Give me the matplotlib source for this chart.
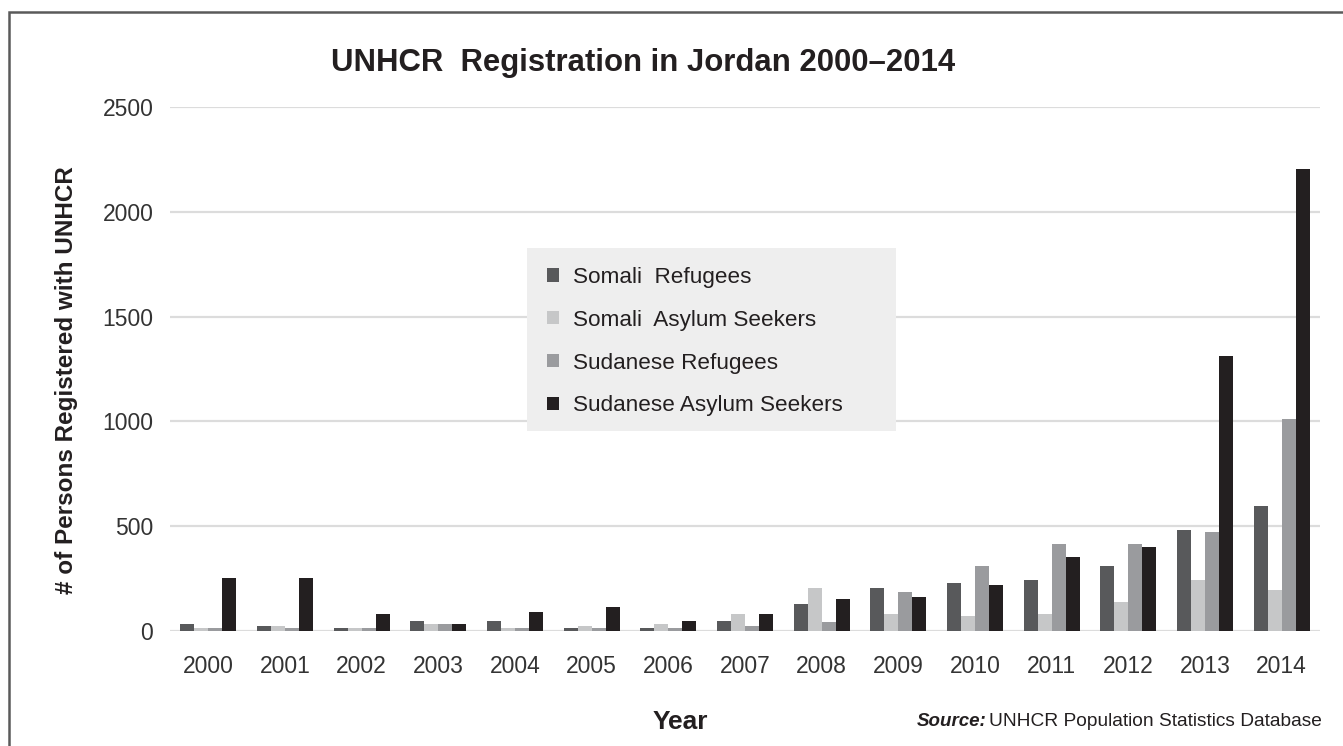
import matplotlib
matplotlib.use("Agg")
import matplotlib.pyplot as plt
import numpy as np
from matplotlib.patches import Rectangle, Patch

years = ["2000", "2001", "2002", "2003", "2004", "2005", "2006", "2007",
         "2008", "2009", "2010", "2011", "2012", "2013", "2014"]
somali_refugees = [33, 22, 12, 47, 47, 12, 12, 47, 127, 207, 230, 242, 310, 483, 596]
somali_asylum = [12, 22, 12, 33, 12, 22, 33, 80, 207, 81, 70, 81, 138, 242, 196]
sudanese_refugees = [12, 12, 12, 33, 12, 12, 12, 22, 45, 185, 310, 414, 414, 471, 1013]
sudanese_asylum = [252, 252, 80, 33, 92, 115, 47, 80, 151, 161, 218, 355, 402, 1310, 2205]

series_names = ["Somali  Refugees", "Somali  Asylum Seekers",
                "Sudanese Refugees", "Sudanese Asylum Seekers"]
series_values = [somali_refugees, somali_asylum, sudanese_refugees, sudanese_asylum]
colors = ["#58595b", "#c6c7c8", "#9a9b9e", "#231f20"]

W, H = 1343, 746
fig = plt.figure(figsize=(W / 100, H / 100), dpi=100)
ax = fig.add_axes([170 / W, 1 - 631 / H, (1320 - 170) / W, (631 - 107) / H])

sans = ['Liberation Sans', 'DejaVu Sans']

x = np.arange(len(years))
bw = 0.183
for i, (vals, c) in enumerate(zip(series_values, colors)):
    ax.bar(x + (i - 1.5) * bw, vals, width=bw, color=c, zorder=3, linewidth=0)

ax.set_xlim(-0.5, len(years) - 0.5)
ax.set_ylim(0, 2500)
ax.set_yticks([0, 500, 1000, 1500, 2000, 2500])
ax.set_xticks(x)
ax.set_xticklabels(years)
ax.yaxis.grid(True, color="#dcdcdc", linewidth=1.6, zorder=0)
ax.set_axisbelow(True)
for s in ax.spines.values():
    s.set_visible(False)
ax.tick_params(axis="both", length=0, labelsize=16.5, colors="#333333")
ax.tick_params(axis="x", pad=17)
ax.tick_params(axis="y", pad=12)
for lab in ax.get_xticklabels() + ax.get_yticklabels():
    lab.set_family(sans)
    lab.set_color("#333333")

# Title
fig.text(643 / W, 1 - 63 / H, "UNHCR  Registration in Jordan 2000\u20132014",
         ha="center", va="center", fontsize=22.4, fontweight="bold",
         family=sans, color="#231f20")

# Y label
fig.text(67 / W, 1 - 380 / H, "# of Persons Registered with UNHCR",
         rotation=90, ha="center", va="center", fontsize=17.5,
         fontweight="bold", family=sans, color="#231f20")

# X label
fig.text(680 / W, 1 - 722 / H, "Year", ha="center", va="center",
         fontsize=19, fontweight="bold", family=sans, color="#231f20")

# Source
fig.text(917 / W, 1 - 722 / H, "Source:", ha="left", va="center",
         fontsize=13.5, fontweight="bold", fontstyle="italic",
         family=sans, color="#231f20")
fig.text(1322 / W, 1 - 722 / H, "UNHCR Population Statistics Database",
         ha="right", va="center", fontsize=13.8, family=sans, color="#231f20")

# Legend box
fig.patches.append(Rectangle((527 / W, 1 - 431 / H), (896 - 527) / W, (431 - 248) / H,
                             transform=fig.transFigure, facecolor="#eeeeee",
                             edgecolor="none", zorder=5))
handles = [Patch(facecolor=c, edgecolor="none") for c in colors]
leg = fig.legend(handles, series_names, loc="upper left",
                 bbox_to_anchor=(547 / W, 1 - 267 / H), frameon=False,
                 prop={"family": sans, "size": 16.2},
                 handlelength=0.52, handleheight=0.52, handletextpad=0.65,
                 labelspacing=0.97, borderaxespad=0, borderpad=0)
leg.set_zorder(6)
for t in leg.get_texts():
    t.set_color("#231f20")

# Outer frame
fig.patches.append(Rectangle((8.5 / W, -0.1), 1.2, 1 - 12 / H + 0.1,
                             transform=fig.transFigure, facecolor="none",
                             edgecolor="#5a5a5a", linewidth=1.8, zorder=10))

fig.savefig("out.png", dpi=100)
